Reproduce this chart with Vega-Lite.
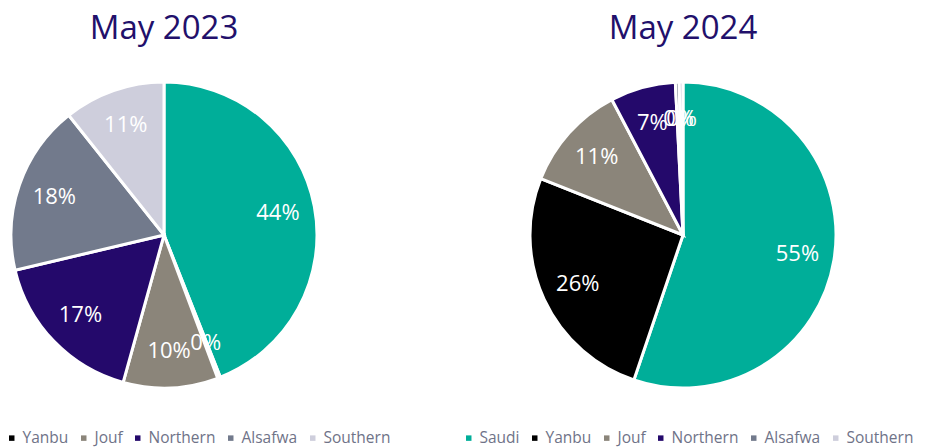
{
  "$schema": "https://vega.github.io/schema/vega-lite/v6.json",
  "padding": 0,
  "bounds": "flush",
  "spacing": 191,
  "config": {"view": {"stroke": null}, "font": "Open Sans"},
  "resolve": {"scale": {"color": "independent", "theta": "independent"}, "legend": {"color": "independent"}},
  "hconcat": [
    {
      "width": 328,
      "height": 447,
      "title": {"text": "May 2023", "fontSize": 33, "fontWeight": "normal", "color": "#22106B", "anchor": "middle", "frame": "group", "offset": -46},
      "data": {"values": [
        {"Region": "Saudi", "Share": 0.44, "idx": 1},
        {"Region": "Yanbu", "Share": 0.003, "idx": 2},
        {"Region": "Jouf", "Share": 0.10, "idx": 3},
        {"Region": "Northern", "Share": 0.17, "idx": 4},
        {"Region": "Alsafwa", "Share": 0.18, "idx": 5},
        {"Region": "Southern", "Share": 0.107, "idx": 6}
      ]},
      "encoding": {
        "theta": {"field": "Share", "type": "quantitative", "stack": true},
        "order": {"field": "idx", "type": "quantitative"},
        "color": {
          "field": "Region", "type": "nominal",
          "scale": {"domain": ["Saudi", "Yanbu", "Jouf", "Northern", "Alsafwa", "Southern"], "range": ["#00AE99", "#000000", "#8B857A", "#24096B", "#727A8C", "#CECEDC"]},
          "legend": {"orient": "none", "legendX": 4, "legendY": 430, "direction": "horizontal", "title": null, "values": ["Yanbu", "Jouf", "Northern", "Alsafwa", "Southern"], "symbolType": "square", "symbolSize": 30, "symbolStrokeWidth": 0, "labelFontSize": 15.5, "labelColor": "#6F7388", "columnPadding": 7, "labelOffset": 3}
        }
      },
      "layer": [
        {"mark": {"type": "arc", "outerRadius": 153, "stroke": "#ffffff", "strokeWidth": 3, "yOffset": 11.5}},
        {"mark": {"type": "text", "radius": 116, "fontSize": 22, "yOffset": 11.5}, "encoding": {"text": {"field": "Share", "type": "quantitative", "format": ".0%"}, "color": {"value": "#ffffff"}}}
      ]
    },
    {
      "width": 328,
      "height": 447,
      "title": {"text": "May 2024", "fontSize": 33, "fontWeight": "normal", "color": "#22106B", "anchor": "middle", "frame": "group", "offset": -46},
      "data": {"values": [
        {"Region": "Saudi", "Share": 0.552, "idx": 1},
        {"Region": "Yanbu", "Share": 0.258, "idx": 2},
        {"Region": "Jouf", "Share": 0.113, "idx": 3},
        {"Region": "Northern", "Share": 0.069, "idx": 4},
        {"Region": "Alsafwa", "Share": 0.004, "idx": 5},
        {"Region": "Southern", "Share": 0.004, "idx": 6}
      ]},
      "encoding": {
        "theta": {"field": "Share", "type": "quantitative", "stack": true},
        "order": {"field": "idx", "type": "quantitative"},
        "color": {
          "field": "Region", "type": "nominal",
          "scale": {"domain": ["Saudi", "Yanbu", "Jouf", "Northern", "Alsafwa", "Southern"], "range": ["#00AE99", "#000000", "#8B857A", "#24096B", "#727A8C", "#CECEDC"]},
          "legend": {"orient": "none", "legendX": -58, "legendY": 430, "direction": "horizontal", "title": null, "symbolType": "square", "symbolSize": 30, "symbolStrokeWidth": 0, "labelFontSize": 15.5, "labelColor": "#6F7388", "columnPadding": 7, "labelOffset": 3}
        }
      },
      "layer": [
        {"mark": {"type": "arc", "outerRadius": 153, "stroke": "#ffffff", "strokeWidth": 3, "yOffset": 11.5}},
        {"mark": {"type": "text", "radius": 116, "fontSize": 22, "yOffset": 11.5}, "encoding": {"text": {"field": "Share", "type": "quantitative", "format": ".0%"}, "color": {"value": "#ffffff"}}}
      ]
    }
  ]
}
